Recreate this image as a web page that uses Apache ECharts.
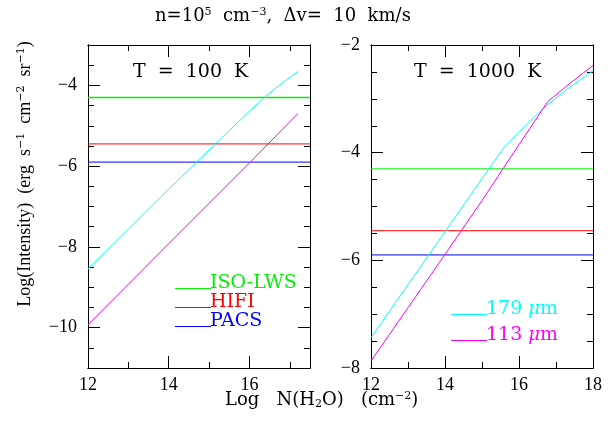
<!DOCTYPE html>
<html>
<head>
<meta charset="utf-8">
<script src="https://cdn.jsdelivr.net/npm/echarts@6/dist/echarts.min.js"></script>
<style>
  html, body { margin: 0; padding: 0; background: #fff; }
  #chart { width: 615px; height: 434px; }
</style>
</head>
<body>
<div id="chart"></div>
<script>
// column density grid (log N) and line intensities
const nLeftCyan = [12, 13, 14, 15, 15.5, 16, 16.4, 16.8, 17.2]
const cyanLeft = [-8.55, -7.56, -6.57, -5.6, -5.12, -4.64, -4.27, -3.95, -3.66]
const nLeftMag = [12, 14, 16, 17.2]
const magLeft = [-9.93, -7.92, -5.92, -4.7]

const nRightCyan = [12, 13, 14, 15, 15.6, 16, 16.7, 17.3, 18]
const cyanRight = [-7.44, -6.45, -5.47, -4.48, -3.9, -3.62, -3.15, -2.82, -2.48]
const nRightMag = [12, 13, 14, 15, 16, 16.78, 17.4, 18]
const magRight = [-7.87, -6.88, -5.89, -4.89, -3.85, -3.05, -2.7, -2.38]

// instrument sensitivity limits
const instruments = ['ISO-LWS', 'HIFI', 'PACS']
const limits = [-4.3, -5.45, -5.9]
const instColors = ['#00ee00', '#ff0000', '#0000ff']
const lineNames = ['179 μm', '113 μm']
const lineColors = ['#00ffff', '#ff00ff']

// axis extents and ticks
const xRange = [[12, 17.5], [12, 18]]
const yRange = [[-11, -3], [-8, -2]]
const xMajor = [[12, 14, 16], [12, 14, 16, 18]]
const xMinor = [[13, 15, 17], [13, 15, 17]]
const yMajor = [[-10, -8, -6, -4], [-8, -6, -4, -2]]
const yMinor = [
  [-10.5, -9.5, -9, -8.5, -7.5, -7, -6.5, -5.5, -5, -4.5, -3.5],
  [-7.5, -7, -6.5, -5.5, -5, -4.5, -3.5, -3, -2.5]
]

const serif = 'Liberation Serif'
const wide = 'DejaVu Serif'
const fmt = v => String(v).replace('-', '−')

const makeAxis = (gridIndex, dim, position, range, ticks, len, labels) => {
  let ax = {
    type: 'value',
    gridIndex: gridIndex,
    position: position,
    min: range[0],
    max: range[1],
    axisLine: { show: true, onZero: false, lineStyle: { color: '#000', width: 1 } },
    splitLine: { show: false },
    axisTick: { show: true, inside: true, length: len, customValues: ticks, lineStyle: { color: '#000', width: 1 } },
    axisLabel: { show: false }
  }
  if (labels) {
    ax.axisLabel = {
      show: true,
      customValues: ticks,
      formatter: fmt,
      fontFamily: serif,
      fontSize: 18,
      color: '#000',
      margin: dim === 'x' ? 8 : 11
    }
  }
  return ax
}

let xAxes = []
let yAxes = []
for (let p = 0; p < 2; p++) {
  xAxes.push(makeAxis(p, 'x', 'bottom', xRange[p], xMajor[p], 12, true))
  xAxes.push(makeAxis(p, 'x', 'bottom', xRange[p], xMinor[p], 6, false))
  xAxes.push(makeAxis(p, 'x', 'top', xRange[p], xMajor[p], 12, false))
  xAxes.push(makeAxis(p, 'x', 'top', xRange[p], xMinor[p], 6, false))
  yAxes.push(makeAxis(p, 'y', 'left', yRange[p], yMajor[p], 12, true))
  yAxes.push(makeAxis(p, 'y', 'left', yRange[p], yMinor[p], 6, false))
  yAxes.push(makeAxis(p, 'y', 'right', yRange[p], yMajor[p], 12, false))
  yAxes.push(makeAxis(p, 'y', 'right', yRange[p], yMinor[p], 6, false))
}

const zip = (xs, ys) => xs.map((x, i) => [x, ys[i]])

let series = []
for (let p = 0; p < 2; p++) {
  instruments.forEach((name, i) => {
    series.push({
      name: name,
      type: 'line',
      xAxisIndex: p * 4,
      yAxisIndex: p * 4,
      data: [[xRange[p][0], limits[i]], [xRange[p][1], limits[i]]],
      symbol: 'none',
      lineStyle: { color: instColors[i], width: p === 0 && i === 0 ? 1.6 : 1 },
      itemStyle: { color: instColors[i] }
    })
  })
}
const curves = [
  [nLeftCyan, cyanLeft, 0, 0], [nLeftMag, magLeft, 0, 1],
  [nRightCyan, cyanRight, 1, 0], [nRightMag, magRight, 1, 1]
]
for (let c of curves) {
  series.push({
    name: lineNames[c[3]],
    type: 'line',
    xAxisIndex: c[2] * 4,
    yAxisIndex: c[2] * 4,
    data: zip(c[0], c[1]),
    symbol: 'none',
    lineStyle: { color: lineColors[c[3]], width: 1 },
    itemStyle: { color: lineColors[c[3]] }
  })
}

const rich = {
  sup: { fontFamily: wide, fontSize: 11, verticalAlign: 'top', padding: [0, 0, 8, 0], color: '#000' },
  sub: { fontFamily: wide, fontSize: 11, padding: [8, 0, 0, 0], color: '#000' }
}
// legend text sits on the line, like the original's labels
const legendRich = {
  t: { fontFamily: wide, fontSize: 19, lineHeight: 20, padding: [0, 0, 10, 0] },
  i: { fontFamily: wide, fontStyle: 'italic', fontSize: 18, lineHeight: 20, padding: [0, 0, 10, 0] }
}

let option = {
  animation: false,
  backgroundColor: '#fff',
  title: [
    { text: 'n=10{sup|5}  cm{sup|−3},  Δv=  10  km/s', left: 150, top: 2,
      textStyle: { fontFamily: wide, fontSize: 18, fontWeight: 'normal', color: '#000', rich: rich } },
    { text: 'T  =  100  K', left: 128, top: 58,
      textStyle: { fontFamily: wide, fontSize: 19, fontWeight: 'normal', color: '#000' } },
    { text: 'T  =  1000  K', left: 409, top: 58,
      textStyle: { fontFamily: wide, fontSize: 19, fontWeight: 'normal', color: '#000' } },
    { text: 'Log   N(H{sub|2}O)   (cm{sup|−2})', left: 220, top: 386,
      textStyle: { fontFamily: wide, fontSize: 18, fontWeight: 'normal', color: '#000', rich: rich } }
  ],
  graphic: [{
    type: 'text',
    x: 25,
    y: 174,
    rotation: Math.PI / 2,
    style: {
      text: 'Log(Intensity)  (erg  s{sup|−1}  cm{sup|−2}  sr{sup|−1})',
      font: '18px "Liberation Serif"',
      fill: '#000',
      align: 'center',
      verticalAlign: 'middle',
      rich: rich
    }
  }],
  legend: [
    {
      data: instruments.map((n, i) => ({ name: n, textStyle: { color: instColors[i] } })),
      orient: 'vertical',
      left: 170,
      top: 269,
      itemWidth: 36,
      itemHeight: 1,
      itemGap: -10,
      icon: 'rect',
      selectedMode: false,
      formatter: n => '{t|' + n + '}',
      textStyle: { fontFamily: wide, fontSize: 19, padding: [0, 0, 0, -6], rich: legendRich }
    },
    {
      data: lineNames.map((n, i) => ({ name: n, textStyle: { color: lineColors[i] } })),
      orient: 'vertical',
      left: 446,
      top: 295,
      itemWidth: 36,
      itemHeight: 1,
      itemGap: -3,
      icon: 'rect',
      selectedMode: false,
      formatter: n => '{t|' + n.replace('μ', '}{i|μ}{t|') + '}',
      textStyle: { fontFamily: wide, fontSize: 18, padding: [0, 0, 0, -6], rich: legendRich }
    }
  ],
  grid: [
    { left: 88, top: 45, width: 222, height: 323 },
    { left: 371, top: 45, width: 222, height: 323 }
  ],
  xAxis: xAxes,
  yAxis: yAxes,
  series: series
}

let chart = echarts.init(document.getElementById('chart'))
chart.setOption(option)
</script>
</body>
</html>
